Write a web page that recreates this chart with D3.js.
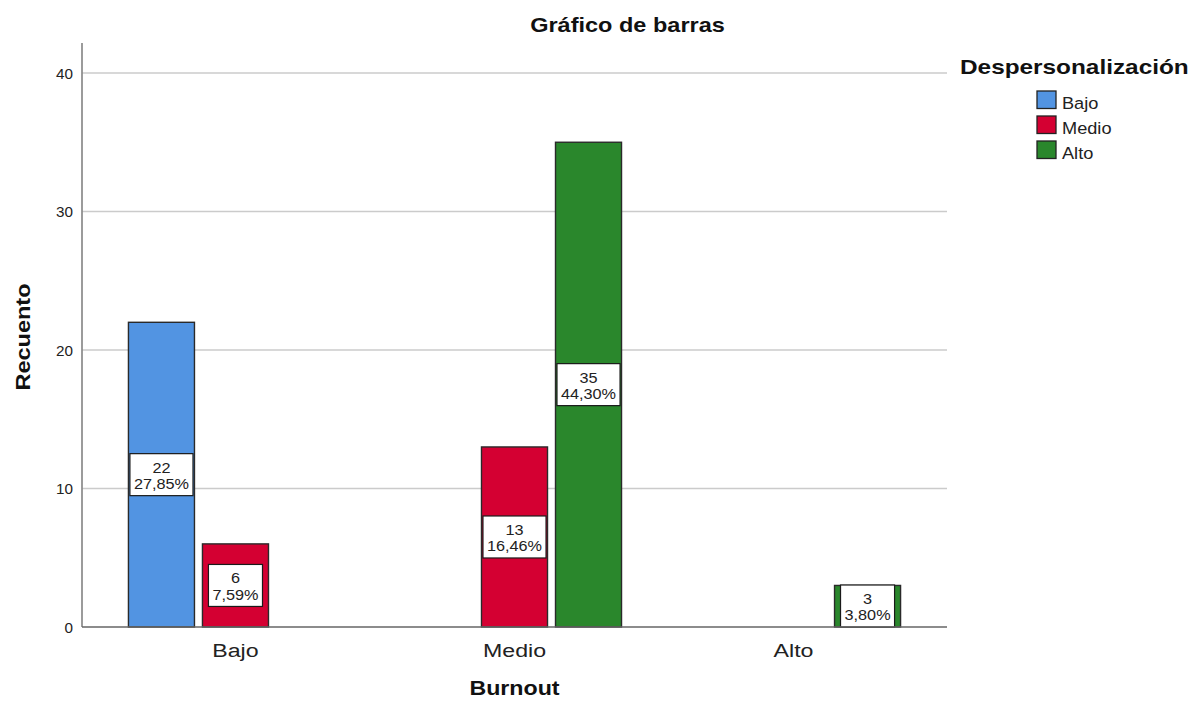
<!DOCTYPE html>
<html>
<head>
<meta charset="utf-8">
<script src="https://cdn.jsdelivr.net/npm/d3@7"></script>
<style>
  body { margin: 0; background: #fff; }
  text { font-family: Arial, "Liberation Sans", sans-serif; }
</style>
</head>
<body>
<svg id="chart" width="1194" height="708"></svg>
<script>
// categories of Burnout (x axis) and Despersonalización (series)
const burnoutLevels = ["Bajo", "Medio", "Alto"];
const seriesNames = ["Bajo", "Medio", "Alto"];
const seriesColours = ["#5294e2", "#d40032", "#2a872c"];

// counts per burnout level / series (null = no bar)
const countsBajo = [22, 6, null];
const countsMedio = [null, 13, 35];
const countsAlto = [null, null, 3];
const percentLabels = {
    "Bajo-Bajo": "27,85%", "Bajo-Medio": "7,59%",
    "Medio-Medio": "16,46%", "Medio-Alto": "44,30%",
    "Alto-Alto": "3,80%"
};
const yTicks = [0, 10, 20, 30, 40];

const rows = [countsBajo, countsMedio, countsAlto];
let data = [];
burnoutLevels.forEach((b, i) => {
    seriesNames.forEach((s, j) => {
        if (rows[i][j] != null) data.push({ group: b, series: s, value: rows[i][j], pct: percentLabels[b + "-" + s] });
    });
});

const margin = { top: 43, left: 82, right: 247, bottom: 81 };
const width = 1194, height = 708;
const svg = d3.select("#chart");

// the picture is a bit wider than tall, so text gets stretched sideways
function stretched(x, y, sx) {
    return `translate(${x},${y}) scale(${sx},1)`;
}

const x0 = d3.scaleBand().domain(burnoutLevels)
    .range([margin.left, width - margin.right])
    .paddingInner(0).paddingOuter(0.05);
const x1 = d3.scaleBand().domain(seriesNames)
    .range([0, x0.bandwidth()])
    .paddingInner(0.108).paddingOuter(0.439);
const y = d3.scaleLinear().domain([0, 40]).range([height - margin.bottom, 73]);
const colour = d3.scaleOrdinal().domain(seriesNames).range(seriesColours);

// gridlines
svg.append("g").selectAll("line").data(yTicks.slice(1)).join("line")
    .attr("x1", margin.left).attr("x2", width - margin.right)
    .attr("y1", d => y(d)).attr("y2", d => y(d))
    .attr("stroke", "#cbcbcb").attr("stroke-width", 1.7);

// y axis
const yAxis = svg.append("g").attr("transform", `translate(${margin.left},0)`)
    .call(d3.axisLeft(y).tickValues(yTicks).tickSize(0).tickPadding(9));
yAxis.select(".domain").remove();
yAxis.selectAll("text").attr("font-size", 14).attr("fill", "#222")
    .attr("font-family", "Arial, 'Liberation Sans', sans-serif")
    .attr("x", 0).attr("dy", "0.36em")
    .attr("transform", "translate(-9,0) scale(1.09,1)");
svg.append("line").attr("x1", margin.left).attr("x2", margin.left)
    .attr("y1", margin.top).attr("y2", y(0))
    .attr("stroke", "#8a8a8a").attr("stroke-width", 1.7);

// bars
const bars = svg.append("g").selectAll("g").data(data).join("g")
    .attr("transform", d => `translate(${x0(d.group) + x1(d.series)},0)`);
bars.append("rect")
    .attr("y", d => y(d.value))
    .attr("width", x1.bandwidth())
    .attr("height", d => y(0) - y(d.value))
    .attr("fill", d => colour(d.series))
    .attr("stroke", "#2a2a2a").attr("stroke-width", 1.4);

// x axis
svg.append("line").attr("x1", margin.left).attr("x2", width - margin.right)
    .attr("y1", y(0)).attr("y2", y(0))
    .attr("stroke", "#666").attr("stroke-width", 1.6);
const xAxis = svg.append("g").attr("transform", `translate(0,${y(0)})`)
    .call(d3.axisBottom(x0).tickSize(0));
xAxis.select(".domain").remove();
xAxis.selectAll("text").attr("font-size", 19).attr("fill", "#222")
    .attr("font-family", "Arial, 'Liberation Sans', sans-serif")
    .attr("y", 0).attr("dy", 0)
    .attr("transform", stretched(0, 30, 1.22));

// value labels: white box in the middle of each bar
const labelSx = 1.16;
bars.each(function (d) {
    const g = d3.select(this);
    const cx = x1.bandwidth() / 2;
    let top = (y(0) + y(d.value)) / 2 - 21;
    if (top + 42 > y(0)) top = y(0) - 42;
    const lbl = g.append("g");
    const t = lbl.append("text").attr("text-anchor", "middle")
        .attr("font-size", 14).attr("fill", "#222")
        .attr("transform", stretched(cx, top, labelSx));
    t.append("tspan").attr("x", 0).attr("y", 19).text(d.value);
    t.append("tspan").attr("x", 0).attr("y", 35.5).text(d.pct);
    const w = t.node().getBBox().width * labelSx;
    lbl.insert("rect", "text")
        .attr("x", cx - w / 2 - 4).attr("y", top)
        .attr("width", w + 8).attr("height", 42)
        .attr("fill", "#fff").attr("stroke", "#1a1a1a").attr("stroke-width", 1.2);
});

// titles
svg.append("text").attr("transform", stretched(627.5, 31.5, 1.12))
    .attr("text-anchor", "middle")
    .attr("font-size", 21).attr("font-weight", "bold").attr("fill", "#111").text("Gráfico de barras");
svg.append("text").attr("transform", stretched(x0.range()[0] + (x0.range()[1] - x0.range()[0]) / 2, 695, 1.16))
    .attr("text-anchor", "middle").attr("font-size", 20).attr("font-weight", "bold").attr("fill", "#111")
    .text("Burnout");
svg.append("text").attr("transform", `translate(30,337) rotate(-90) scale(1.12,1)`)
    .attr("text-anchor", "middle").attr("font-size", 21).attr("font-weight", "bold").attr("fill", "#111")
    .text("Recuento");

// legend
const legend = svg.append("g").attr("transform", "translate(960,0)");
legend.append("text").attr("transform", stretched(0, 73.5, 1.16))
    .attr("font-size", 21).attr("font-weight", "bold")
    .attr("fill", "#111").text("Despersonalización");
const items = legend.selectAll("g.item").data(seriesNames).join("g").attr("class", "item")
    .attr("transform", (d, i) => `translate(77,${91 + i * 25})`);
items.append("rect").attr("width", 19).attr("height", 17.5)
    .attr("fill", d => colour(d)).attr("stroke", "#222").attr("stroke-width", 1.3);
items.append("text").attr("transform", stretched(25, 17.5, 1.07))
    .attr("font-size", 17).attr("fill", "#222").text(d => d);
</script>
</body>
</html>
